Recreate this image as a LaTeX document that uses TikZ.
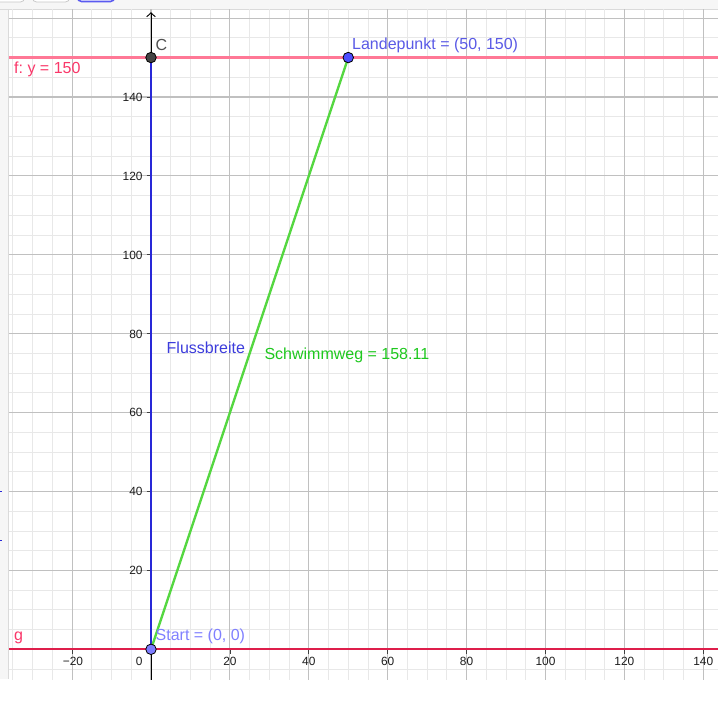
\documentclass[tikz,border=0pt]{standalone}
\usepackage{fontspec}
\setmainfont{Liberation Sans}
\usetikzlibrary{arrows.meta}
\frenchspacing
\definecolor{barbg}{RGB}{246,246,246}
\definecolor{barline}{RGB}{218,218,218}
\definecolor{btnline}{RGB}{200,200,200}
\definecolor{btnblue}{RGB}{90,90,240}
\definecolor{gridminor}{RGB}{232,232,232}
\definecolor{gridmajor}{RGB}{192,192,192}
\definecolor{fcol}{RGB}{255,120,150}
\definecolor{gcol}{RGB}{222,30,75}
\definecolor{redlab}{RGB}{250,55,105}
\definecolor{bluecol}{RGB}{40,40,215}
\definecolor{bluelab}{RGB}{60,60,220}
\definecolor{greencol}{RGB}{85,215,65}
\definecolor{greenlab}{RGB}{30,200,30}
\definecolor{landfill}{RGB}{77,77,255}
\definecolor{landlab}{RGB}{90,90,230}
\definecolor{startfill}{RGB}{125,125,255}
\definecolor{startlab}{RGB}{128,128,255}
\definecolor{cfill}{RGB}{68,68,68}
\definecolor{clab}{RGB}{80,80,80}
\definecolor{ticklab}{RGB}{30,30,30}
\begin{document}
\begin{tikzpicture}[x=1pt,y=-1pt,
  minorline/.style={draw=gridminor,line width=0.9pt},
  majorline/.style={draw=gridmajor,line width=1.1pt},
  lab/.style={inner sep=0pt,anchor=base west,font=\fontsize{16}{18}\selectfont},
  ylab/.style={inner sep=0pt,anchor=base east,text=ticklab,font=\fontsize{11.9}{13}\selectfont},
  xlab/.style={inner sep=0pt,anchor=base,text=ticklab,font=\fontsize{11.9}{13}\selectfont},
  dot/.style={circle,draw=black,line width=0.8pt,minimum size=10.5pt,inner sep=0pt}]
\useasboundingbox (0,0) rectangle (718,703);
\fill[white] (0,0) rectangle (718,703);
% top bar and left panel
\fill[barbg] (0,0) rectangle (718,9.5);
\draw[barline,line width=1pt] (0,9.5) -- (718,9.5);
\draw[btnline,fill=white,line width=0.8pt,rounded corners=4pt] (-10,-12) rectangle (24.5,2);
\draw[btnline,fill=white,line width=0.8pt,rounded corners=4pt] (32.5,-12) rectangle (69.5,2);
\draw[btnblue,fill=white,line width=1.6pt,rounded corners=4pt] (77.5,-12) rectangle (114.5,1.5);
\fill[barbg] (0,10) rectangle (8,679);
\draw[barline,line width=1pt] (8.5,10) -- (8.5,679);
\draw[bluecol,line width=1pt] (0,491.3) -- (2,491.3);
\draw[bluecol,line width=1pt] (0,540) -- (2,540);
% grid
\begin{scope}
\clip (9,10) rectangle (718,679);
\begin{scope}[xshift=151pt,yshift=-649.3pt,x=3.945pt,y=3.945pt]
  \foreach \k in {-40,-35,...,145} \draw[minorline] (\k,-10) -- (\k,170);
  \foreach \k in {-10,-5,...,165} \draw[minorline] (-40,\k) -- (145,\k);
  \foreach \k in {-20,0,...,140} \draw[majorline] (\k,-10) -- (\k,170);
  \foreach \k in {0,20,...,160} \draw[majorline] (-40,\k) -- (145,\k);
  % ticks
  \foreach \k in {20,40,...,140} \draw[black!75,line width=0.8pt] (-1.1,\k) -- (0,\k);
  \foreach \k in {-20,20,40,...,140} \draw[black!75,line width=0.8pt] (\k,0) -- (\k,-1.1);
  % axes
  \coordinate (xl) at (-40,0);
  \coordinate (xr) at (145,0);
  \coordinate (yb) at (0,-8);
  \coordinate (yt) at (0,161.5);
  \draw[black,line width=0.9pt] (xl) -- (xr);
  \draw[black,line width=0.9pt,-{Straight Barb[length=4pt,width=8.5pt,line width=0.9pt]}] (yb) -- (yt);
  % lines f and g
  \coordinate (fl) at (-40,150);
  \coordinate (fr) at (145,150);
  \coordinate (gl) at (-40,0);
  \coordinate (gr) at (145,0);
  \draw[fcol,line width=2.6pt] (fl) -- (fr);
  \draw[gcol,line width=2pt] (gl) -- (gr);
  % points
  \coordinate (S) at (0,0);
  \coordinate (L) at (50,150);
  \coordinate (C) at (0,150);
  \draw[bluecol,line width=2.4pt] (S) -- (C);
  \draw[greencol,line width=2.4pt] (S) -- (L);
  \node[dot,fill=startfill] (Sdot) at (S) {};
  \node[dot,fill=landfill] (Ldot) at (L) {};
  \node[dot,fill=cfill] (Cdot) at (C) {};
\end{scope}
\end{scope}
% axis labels
\foreach \v in {20,40,...,140}
  \node[ylab] (y\v) at (142.7,{649.3-3.945*\v+4.4}) {\v};
\node[xlab] (xm20) at ({151-3.945*20+0.8},665.3) {−20};
\node[ylab] (x0) at (142.7,665.3) {0};
\foreach \v in {20,40,...,140}
  \node[xlab] (x\v) at ({151+3.945*\v},665.3) {\v};
% labels
\node[lab,text=clab] (Clab) at (155.5,51) {C};
\node[lab,text=landlab] (Llab) at (352,49.3) {Landepunkt = (50, 150)};
\node[lab,text=startlab] (Slab) at (155.5,640.7) {Start = (0, 0)};
\node[lab,text=redlab] (flab) at (14,74) {f: y = 150};
\node[lab,text=redlab] (glab) at (14,640) {g};
\node[lab,text=bluelab] (Flab) at (166.5,353.7) {Flussbreite};
\node[lab,text=greenlab] (Wlab) at (264.3,359.3) {Schwimmweg = 158.11};
\end{tikzpicture}
\end{document}
